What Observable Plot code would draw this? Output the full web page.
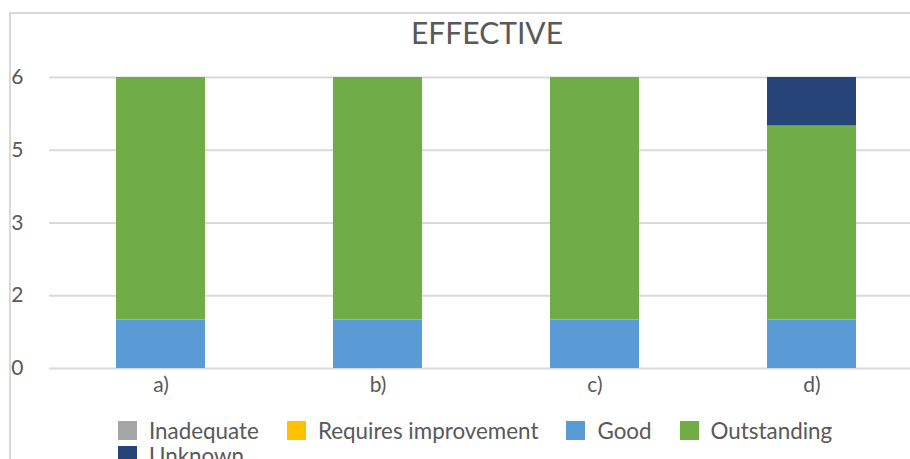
<!DOCTYPE html>
<html>
<head>
<meta charset="utf-8">
<script src="https://cdn.jsdelivr.net/npm/d3@7"></script>
<script src="https://cdn.jsdelivr.net/npm/@observablehq/plot@0.6"></script>
<style>
  html, body { margin: 0; padding: 0; background: #fff; }
  #wrap { position: relative; width: 910px; height: 459px; overflow: hidden; font-family: Lato, "Noto Sans", sans-serif; color: #595959; }
  #frame { position: absolute; left: 9px; top: 12px; width: 960px; height: 500px; border: 2px solid #d9d9d9; box-sizing: border-box; z-index: 3; pointer-events: none; }
  #title { position: absolute; left: 0; width: 974px; top: 12px; text-align: center; font-size: 30px; line-height: 40px; z-index: 2; }
  #chart { position: absolute; left: 0; top: 0; z-index: 1; }
  #legend { position: absolute; left: 118px; top: 418px; width: 760px; display: flex; flex-wrap: wrap; column-gap: 28px; row-gap: 0; font-size: 22.4px; z-index: 2; }
  .item { display: flex; align-items: center; height: 25px; }
  .sw { width: 19px; height: 19px; margin-right: 12px; }
</style>
</head>
<body>
<div id="wrap">
  <div id="frame"></div>
  <div id="title"></div>
  <div id="chart"></div>
  <div id="legend"></div>
</div>
<script>
const title = "EFFECTIVE";
const categories = ["a)", "b)", "c)", "d)"];
const seriesNames = ["Inadequate", "Requires improvement", "Good", "Outstanding", "Unknown"];
const seriesColors = ["#A5A5A5", "#FFC000", "#5B9BD5", "#70AD47", "#264478"];
const inadequate = [0, 0, 0, 0];
const requiresImprovement = [0, 0, 0, 0];
const good = [1, 1, 1, 1];
const outstanding = [5, 5, 5, 4];
const unknown = [0, 0, 0, 1];
const yTicks = [0, 1.5, 3, 4.5, 6];
const yTickLabels = ["0", "2", "3", "5", "6"];

const seriesValues = [inadequate, requiresImprovement, good, outstanding, unknown];
const rows = [];
seriesNames.forEach((s, si) => {
  categories.forEach((c, ci) => {
    rows.push({category: c, series: s, value: seriesValues[si][ci]});
  });
});

document.getElementById("title").textContent = title;

const chart = Plot.plot({
  width: 910,
  height: 459,
  marginLeft: 49,
  marginRight: 0,
  marginTop: 77,
  marginBottom: 91,
  style: {fontFamily: "Lato, 'Noto Sans', sans-serif", fontSize: "21px", color: "#595959", background: "transparent", overflow: "visible"},
  x: {domain: categories, range: [50.7, 921.4], paddingInner: 0.59, paddingOuter: 0.295, label: null},
  y: {domain: [0, 6], label: null},
  color: {domain: seriesNames, range: seriesColors},
  marks: [
    Plot.ruleY(yTicks, {stroke: "#d9d9d9", strokeWidth: 2}),
    Plot.barY(rows, Plot.stackY({order: seriesNames, x: "category", y: "value", fill: "series"})),
    Plot.axisY({ticks: yTicks, tickFormat: (d) => yTickLabels[yTicks.indexOf(d)], tickSize: 0, tickPadding: 26, fill: "#595959"}),
    Plot.axisX({tickSize: 0, tickPadding: 9, fill: "#595959"})
  ]
});
document.getElementById("chart").appendChild(chart);

const legend = document.getElementById("legend");
seriesNames.forEach((s, i) => {
  const it = document.createElement("div");
  it.className = "item";
  const sw = document.createElement("div");
  sw.className = "sw";
  sw.style.background = seriesColors[i];
  const t = document.createElement("span");
  t.textContent = s;
  it.appendChild(sw);
  it.appendChild(t);
  legend.appendChild(it);
});
</script>
</body>
</html>
